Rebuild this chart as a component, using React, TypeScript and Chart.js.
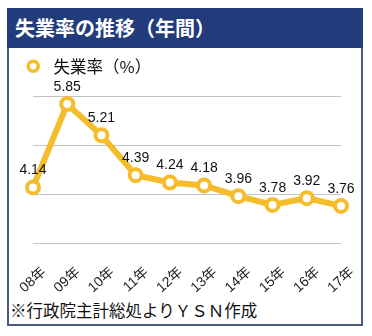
import React, { useEffect, useRef } from "react";
import { Chart, registerables } from "chart.js";

Chart.register(...registerables);

const categories = ["08年", "09年", "10年", "11年", "12年", "13年", "14年", "15年", "16年", "17年"];
const rates = [4.14, 5.85, 5.21, 4.39, 4.24, 4.18, 3.96, 3.78, 3.92, 3.76];
const seriesLabel = "失業率（%）";
const titleText = "失業率の推移（年間）";
const sourceText = "※行政院主計総処よりＹＳＮ作成";

const YELLOW = "#F5BC2B";
const NUM_FONT = '"Liberation Sans", Arial, "Noto Sans CJK JP", sans-serif';
const JP_FONT = '"Noto Sans CJK JP", "Noto Sans", sans-serif';

const valueLabels = {
  id: "valueLabels",
  afterDatasetsDraw(chart: any) {
    const ctx = chart.ctx;
    const meta = chart.getDatasetMeta(0);
    const data = chart.data.datasets[0].data as number[];
    ctx.save();
    ctx.font = `14px ${NUM_FONT}`;
    ctx.fillStyle = "#111";
    ctx.textAlign = "center";
    ctx.textBaseline = "bottom";
    meta.data.forEach((pt: any, i: number) => {
      ctx.fillText(data[i].toFixed(2), pt.x, pt.y - 10);
    });
    ctx.restore();
  },
};

export default function App() {
  const canvasRef = useRef<HTMLCanvasElement | null>(null);

  useEffect(() => {
    if (!canvasRef.current) return;
    const chart = new Chart(canvasRef.current, {
      type: "line",
      data: {
        labels: categories,
        datasets: [
          {
            label: seriesLabel,
            data: rates,
            borderColor: YELLOW,
            backgroundColor: "#ffffff",
            borderWidth: 6,
            pointRadius: 6,
            pointBorderWidth: 4,
            pointBackgroundColor: "#ffffff",
            pointBorderColor: YELLOW,
            pointHoverRadius: 6,
            tension: 0,
            clip: false as any,
          },
        ],
      },
      options: {
        animation: false,
        responsive: true,
        maintainAspectRatio: false,
        layout: { padding: { left: 6, right: 20, top: 0, bottom: 0 } },
        plugins: {
          legend: {
            display: true,
            position: "top",
            align: "start",
            labels: {
              usePointStyle: true,
              pointStyle: "circle",
              boxHeight: 7,
              color: "#111",
              font: { size: 16.5, family: JP_FONT },
              padding: 10,
              generateLabels: (c: any) => {
                const items = Chart.defaults.plugins.legend.labels.generateLabels(c);
                return items.map((it: any) => ({ ...it, text: " " + it.text, lineWidth: 3.5 }));
              },
            },
          },
          tooltip: { enabled: false },
        },
        scales: {
          x: {
            grid: { display: false },
            border: { display: false },
            ticks: {
              autoSkip: false,
              minRotation: 42,
              maxRotation: 42,
              labelOffset: 11,
              padding: 13,
              color: "#222",
              font: { size: 14, family: NUM_FONT },
            },
            afterFit: (s: any) => {
              s.paddingLeft = 0;
              s.paddingRight = 0;
              s.height = 55;
            },
          },
          y: {
            min: 3,
            max: 6.25,
            border: { display: false },
            grid: { color: "#c4c4c4", lineWidth: 1, drawTicks: false },
            ticks: { display: false, stepSize: 1, includeBounds: false },
            afterFit: (s: any) => {
              s.width = 18;
            },
          },
        },
      },
      plugins: [valueLabels],
    });
    return () => chart.destroy();
  }, []);

  return (
    <div
      style={{
        position: "absolute",
        left: 7,
        top: 8,
        width: 356,
        height: 318,
        boxSizing: "border-box",
        border: "2px solid #4a5b80",
        background: "#fff",
      }}
    >
      <div
        style={{
          margin: "-2px -2px 0 -2px",
          height: 40,
          background: "#223C7B",
          color: "#fff",
          fontFamily: JP_FONT,
          fontWeight: 700,
          fontSize: 20,
          lineHeight: "40px",
          paddingLeft: 8,
          whiteSpace: "nowrap",
        }}
      >
        {titleText}
      </div>
      <div style={{ position: "relative", width: 352, height: 250 }}>
        <canvas ref={canvasRef} />
      </div>
      <div
        style={{
          fontFamily: JP_FONT,
          fontSize: 16.5,
          lineHeight: "24px",
          color: "#111",
          paddingLeft: 1,
          whiteSpace: "nowrap",
        }}
      >
        {sourceText}
      </div>
    </div>
  );
}
